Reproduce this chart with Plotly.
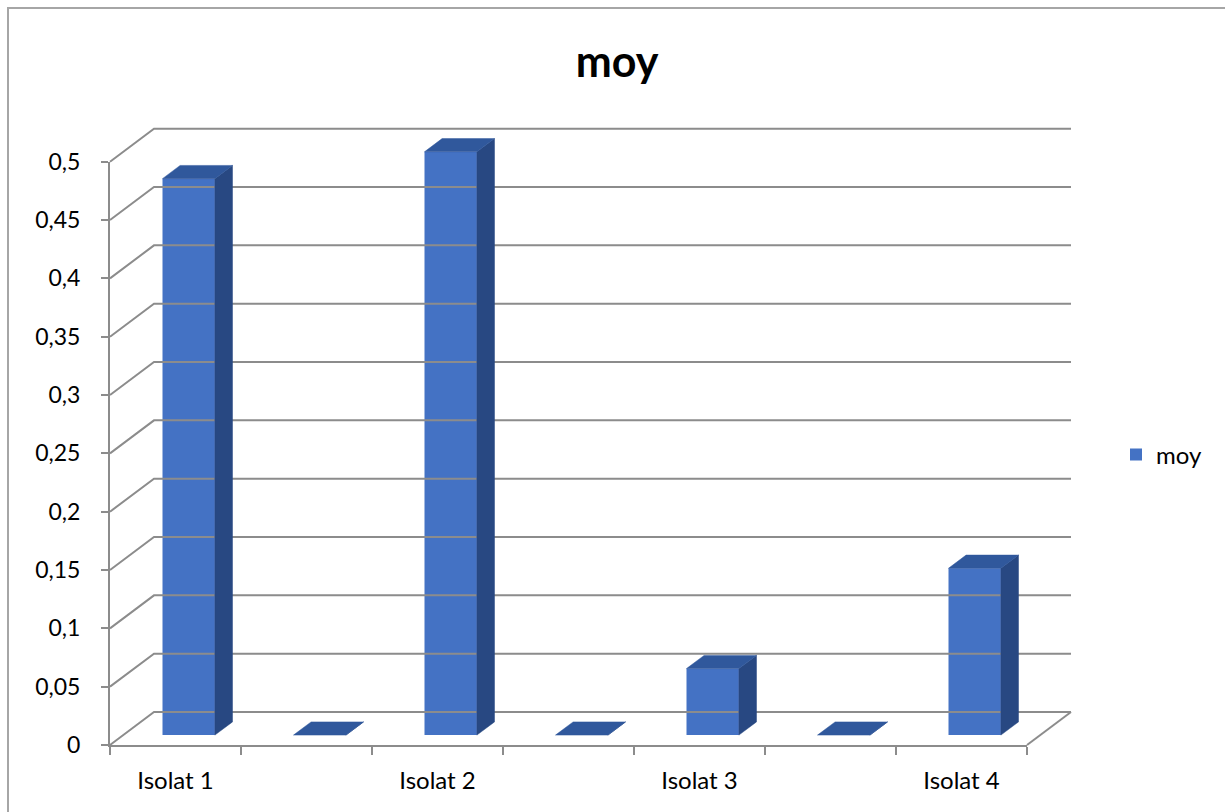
import plotly.graph_objects as go

# --- data -------------------------------------------------------------
categories = ["Isolat 1", "", "Isolat 2", "", "Isolat 3", "", "Isolat 4"]
moy = [0.477, 0.0, 0.5, 0.0, 0.057, 0.0, 0.143]
y_ticks = [0, 0.05, 0.1, 0.15, 0.2, 0.25, 0.3, 0.35, 0.4, 0.45, 0.5]
series_name = "moy"

# --- geometry of the oblique 3D look (data units) ----------------------
W, H = 1225, 812
X0_PX, CAT_PX = 110.0, 131.0          # front plane: left edge and px per category
Y0_PX, VAL_PX = 745.0, 1166.6         # front plane: zero line and px per unit
DEPTH_X = 44.0 / CAT_PX               # full floor depth, horizontal shift
DEPTH_Y = 33.0 / VAL_PX               # full floor depth, vertical shift
Z0, Z1 = 0.3, 0.7                     # bar front / back depth fractions
HALF_W = 0.2                          # half bar width (gap width 150 %)

n = len(categories)
x_lo, x_hi = -0.5, n - 0.5
y_max = max(y_ticks)

FRONT = "#4472C4"
TOP = "#30589C"
SIDE = "#284882"
GRID = "#8C8C8C"
FONT = "Lato"


def px_x(px):
    return px / W


def px_y(px):
    return 1 - px / H


fig = go.Figure()

# walls and floor lines
gx, gy = [], []
for v in y_ticks:
    gx += [x_lo, x_lo + DEPTH_X, x_hi + DEPTH_X, None]
    gy += [v, v + DEPTH_Y, v + DEPTH_Y, None]
gx += [x_hi, x_hi + DEPTH_X, None]
gy += [0, DEPTH_Y, None]
fig.add_trace(go.Scatter(x=gx, y=gy, mode="lines", line=dict(color=GRID, width=2),
                         hoverinfo="skip", showlegend=False))

# front faces of the columns
fig.add_trace(go.Bar(
    x=[i + Z0 * DEPTH_X for i in range(n)], y=moy, base=Z0 * DEPTH_Y,
    width=2 * HALF_W, marker=dict(color=FRONT, line=dict(width=0)),
    name=series_name, customdata=categories,
    hovertemplate="%{customdata}: %{y}<extra></extra>",
))

# side faces
sx, sy = [], []
for i, v in enumerate(moy):
    xr0 = i + HALF_W + Z0 * DEPTH_X
    xr1 = i + HALF_W + Z1 * DEPTH_X
    sx += [xr0, xr1, xr1, xr0, xr0, None]
    sy += [Z0 * DEPTH_Y, Z1 * DEPTH_Y, v + Z1 * DEPTH_Y, v + Z0 * DEPTH_Y, Z0 * DEPTH_Y, None]
fig.add_trace(go.Scatter(x=sx, y=sy, mode="lines", fill="toself", fillcolor=SIDE,
                         line=dict(color=SIDE, width=0.5), hoverinfo="skip", showlegend=False))

# top faces
tx, ty = [], []
for i, v in enumerate(moy):
    a = i - HALF_W + Z0 * DEPTH_X
    b = i + HALF_W + Z0 * DEPTH_X
    c = i + HALF_W + Z1 * DEPTH_X
    d = i - HALF_W + Z1 * DEPTH_X
    tx += [a, b, c, d, a, None]
    ty += [v + Z0 * DEPTH_Y, v + Z0 * DEPTH_Y, v + Z1 * DEPTH_Y, v + Z1 * DEPTH_Y, v + Z0 * DEPTH_Y, None]
fig.add_trace(go.Scatter(x=tx, y=ty, mode="lines", fill="toself", fillcolor=TOP,
                         line=dict(color=TOP, width=0.5), hoverinfo="skip", showlegend=False))

# front-plane axes (labels, ticks, axis lines)
fig.add_trace(go.Scatter(x=[x_lo], y=[0], xaxis="x2", yaxis="y2", mode="markers",
                         marker=dict(opacity=0), hoverinfo="skip", showlegend=False))

# pixel extents of the plotting areas
dx_lo, dx_hi = -0.6, 6.9
dy_lo, dy_hi = -0.01, 0.54
data_left = X0_PX + (dx_lo - x_lo) * CAT_PX
data_right = X0_PX + (dx_hi - x_lo) * CAT_PX
data_bottom = Y0_PX - dy_lo * VAL_PX
data_top = Y0_PX - dy_hi * VAL_PX
front_right = X0_PX + n * CAT_PX
front_top = Y0_PX - y_max * VAL_PX

tick_text = [("%g" % v).replace(".", ",") for v in y_ticks]

fig.update_layout(
    width=W, height=H,
    margin=dict(l=0, r=0, t=0, b=0, pad=0, autoexpand=False),
    paper_bgcolor="white", plot_bgcolor="rgba(0,0,0,0)",
    font=dict(family=FONT, color="#000000", size=22),
    title=dict(text="<b>moy</b>", x=px_x(617), y=px_y(62), xanchor="center", yanchor="middle",
               xref="paper", yref="container", font=dict(family=FONT, size=43, color="#000000")),
    xaxis=dict(domain=[px_x(data_left), px_x(data_right)], range=[dx_lo, dx_hi],
               visible=False, fixedrange=True, automargin=False),
    yaxis=dict(domain=[px_y(data_bottom), px_y(data_top)], range=[dy_lo, dy_hi],
               visible=False, fixedrange=True, automargin=False),
    xaxis2=dict(domain=[px_x(X0_PX), px_x(front_right)], range=[x_lo, x_hi], anchor="y2",
                tickmode="array", tickvals=list(range(n)), ticktext=categories, ticks="",
                showgrid=False, zeroline=False, showline=True, linecolor=GRID, linewidth=2,
                ticklabelstandoff=13, tickfont=dict(size=24), automargin=False,
                minor=dict(tickmode="array", tickvals=[i - 0.5 for i in range(n + 1)],
                           ticks="outside", ticklen=8, tickcolor=GRID, tickwidth=2, showgrid=False),
                fixedrange=True),
    yaxis2=dict(domain=[px_y(Y0_PX), px_y(front_top)], range=[0, y_max], anchor="x2",
                tickmode="array", tickvals=y_ticks, ticktext=tick_text,
                ticks="outside", ticklen=7, tickcolor=GRID, tickwidth=2,
                showgrid=False, zeroline=False, showline=True, linecolor=GRID, linewidth=2,
                ticklabelstandoff=16, tickfont=dict(size=23), fixedrange=True, automargin=False),
    legend=dict(x=px_x(1116), y=px_y(455), xanchor="left", yanchor="middle",
                font=dict(size=24), bgcolor="rgba(0,0,0,0)"),
    shapes=[dict(type="rect", xref="paper", yref="paper", x0=px_x(8), y0=-0.02, x1=1.02, y1=px_y(8),
                 line=dict(color="#A6A6A6", width=2), fillcolor="rgba(0,0,0,0)", layer="below")],
    showlegend=True,
)

fig.write_html("out.html")
